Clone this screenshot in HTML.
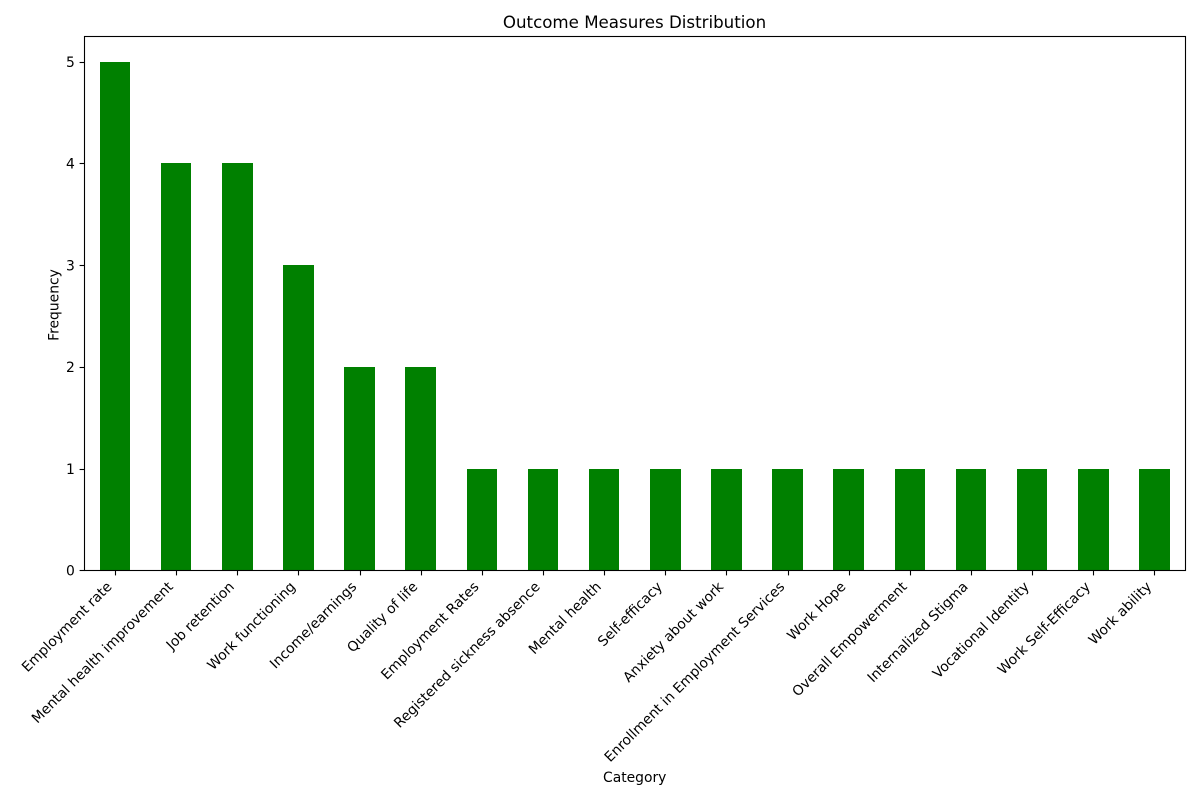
<!DOCTYPE html>
<html lang="en">
<head>
<meta charset="utf-8">
<title>Outcome Measures Distribution</title>
<style>
html,body{margin:0;padding:0;background:#fff;}
svg{display:block;}
text{font-family:"DejaVu Sans",sans-serif;fill:#000;}
</style>
</head>
<body>
<svg id="chart" width="1200" height="800" viewBox="0 0 1200 800" xmlns="http://www.w3.org/2000/svg">
  <rect x="0" y="0" width="1200" height="800" fill="#ffffff"/>
  <g id="bars" shape-rendering="crispEdges"></g>
  <g id="xticks"></g>
  <g id="yticks"></g>
  <rect x="84.5" y="36.5" width="1101" height="534" fill="none" stroke="#000" stroke-width="1.1"/>
  <text x="634.5" y="28" text-anchor="middle" font-size="16.67">Outcome Measures Distribution</text>
  <text x="634.7" y="782" text-anchor="middle" font-size="13.89">Category</text>
  <text x="0" y="0" transform="translate(58.5,305) rotate(-90)" text-anchor="middle" font-size="13.89">Frequency</text>
</svg>
<script>
const categories = ["Employment rate","Mental health improvement","Job retention","Work functioning","Income/earnings","Quality of life","Employment Rates","Registered sickness absence","Mental health","Self-efficacy","Anxiety about work","Enrollment in Employment Services","Work Hope","Overall Empowerment","Internalized Stigma","Vocational Identity","Work Self-Efficacy","Work ability"];
const frequencies = [5,4,4,3,2,2,1,1,1,1,1,1,1,1,1,1,1,1];
const yTickValues = [0,1,2,3,4,5];

const SVG_NS = "http://www.w3.org/2000/svg";
const plotLeft = 84.345, plotRight = 1185.045, plotTop = 36.3, plotBottom = 570.3;
const yMax = Math.max.apply(null, frequencies) * 1.05;
const barWidthUnits = 0.5;

function xScale(i) {
  return plotLeft + (i + 0.5) / categories.length * (plotRight - plotLeft);
}
function yScale(v) {
  return plotBottom - v / yMax * (plotBottom - plotTop);
}
function make(tag, attrs) {
  const el = document.createElementNS(SVG_NS, tag);
  Object.keys(attrs).forEach(function (k) { el.setAttribute(k, attrs[k]); });
  return el;
}

const barsGroup = document.getElementById("bars");
const xTicksGroup = document.getElementById("xticks");
const yTicksGroup = document.getElementById("yticks");
const unitWidth = (plotRight - plotLeft) / categories.length;
const baseY = Math.round(plotBottom);

categories.forEach(function (name, i) {
  const cx = xScale(i);
  const halfW = unitWidth * barWidthUnits / 2;
  const left = Math.round(cx - halfW);
  const right = Math.round(cx + halfW);
  const top = Math.round(yScale(frequencies[i]));

  const bar = make("rect", { x: left, y: top, width: right - left, height: baseY - top, fill: "#008000" });
  
  
  barsGroup.appendChild(bar);

  const tickX = Math.round(cx) + 0.5;
  const tick = make("line", { x1: tickX, x2: tickX, y1: baseY + 0.5, y2: baseY + 5.4, stroke: "#000", "stroke-width": 1.1 });
  
  
  xTicksGroup.appendChild(tick);

  const ax = cx - 2.2, ay = 587.5;
  const label = make("text", { x: 0, y: 0, "text-anchor": "end", "font-size": 13.89, transform: "translate(" + ax + "," + ay + ") rotate(-45)" });
  label.textContent = name;
  
  
  xTicksGroup.appendChild(label);
});

yTickValues.forEach(function (v) {
  const y = yScale(v);
  const tickY = Math.round(y) + 0.5;

  const tick = make("line", { x1: 79.6, x2: 84.5, y1: tickY, y2: tickY, stroke: "#000", "stroke-width": 1.1 });
  
  
  yTicksGroup.appendChild(tick);

  const label = make("text", { x: 74.8, y: y + 5.3, "text-anchor": "end", "font-size": 13.89 });
  label.textContent = String(v);
  
  
  yTicksGroup.appendChild(label);
});
</script>
</body>
</html>
